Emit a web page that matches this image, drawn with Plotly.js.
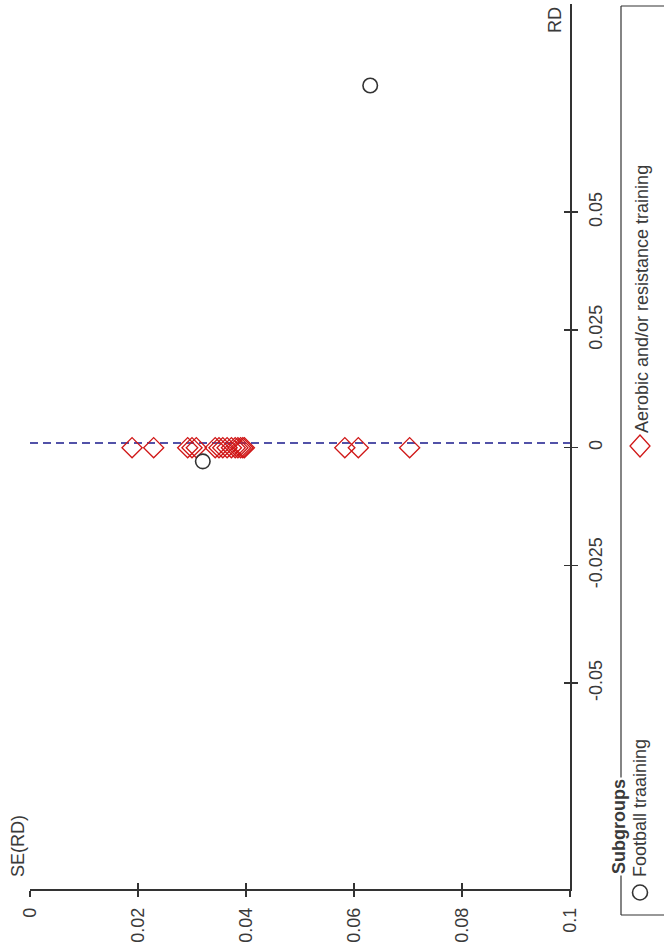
<!DOCTYPE html>
<html>
<head>
<meta charset="utf-8">
<script src="https://cdn.plot.ly/plotly-3.0.1.min.js"></script>
<style>
  html, body { margin: 0; padding: 0; background: #fff; }
  #chart { width: 664px; height: 950px; }
</style>
</head>
<body>
<div id="chart"></div>
<script>
// ---- Data (funnel plot, drawn rotated: SE(RD) horizontal, RD vertical) ----
const groupNames = ["Football traaining", "Aerobic and/or resistance training"];

// Football training (open circles)
const footballSE = [0.0320, 0.0630];
const footballRD = [-0.0029, 0.0769];

// Aerobic and/or resistance training (open diamonds)
const aerobicSE = [0.0189, 0.0229, 0.0292, 0.0300, 0.0308, 0.0343, 0.0350, 0.0357,
                   0.0365, 0.0373, 0.0380, 0.0385, 0.0390, 0.0394, 0.0397,
                   0.0583, 0.0608, 0.0703];
const aerobicRD = [0, 0, 0, 0, 0, 0, 0, 0, 0, 0, 0, 0, 0, 0, 0, 0, 0, 0];

// Pooled estimate line
const pooledSE = [0, 0.1];
const pooledRD = [0.001, 0.001];

// Axes ticks
const seTicks = [0, 0.02, 0.04, 0.06, 0.08, 0.1];
const seTickText = ["0", "0.02", "0.04", "0.06", "0.08", "0.1"];
const rdTicks = [-0.05, -0.025, 0, 0.025, 0.05];
const rdTickText = ["-0.05", "-0.025", "0", "0.025", "0.05"];

// ---- Layout geometry ----
const W = 664, H = 950;
const M = {l: 30, r: 94, t: 4, b: 61};
const PW = W - M.l - M.r, PH = H - M.t - M.b;
const px = x => (x - M.l) / PW;          // pixel -> paper x
const py = y => (H - M.b - y) / PH;      // pixel -> paper y

const FONT = "Liberation Sans, Arial, sans-serif";
const TXT = "#3a3a3a";
const AX = "#333333";

const traces = [
  {
    x: pooledSE, y: pooledRD, mode: "lines", type: "scatter",
    line: {color: "#1a1a8c", width: 1.5, dash: "8px,5px"},
    hoverinfo: "skip", showlegend: false
  },
  {
    x: aerobicSE, y: aerobicRD, mode: "markers", type: "scatter", name: groupNames[1],
    marker: {symbol: "diamond-open", size: 15.5, color: "#d01818", line: {width: 1.3, color: "#d01818"}},
    showlegend: false
  },
  {
    x: footballSE, y: footballRD, mode: "markers", type: "scatter", name: groupNames[0],
    marker: {symbol: "circle-open", size: 14.5, color: "#333333", line: {width: 1.6, color: "#333333"}},
    showlegend: false
  },
  // empty traces to activate overlay axes (for crossing tick marks)
  {x: [null], y: [null], xaxis: "x2", yaxis: "y", type: "scatter", mode: "markers", showlegend: false, hoverinfo: "skip"},
  {x: [null], y: [null], xaxis: "x", yaxis: "y2", type: "scatter", mode: "markers", showlegend: false, hoverinfo: "skip"}
];

const axisFont = {family: FONT, size: 18, color: TXT};
const seRange = [0, 0.1];
const rdRange = [-0.0937, 0.0942];

const shapes = [
  // legend box (left, top, bottom borders; right side is off-canvas)
  {type: "line", xref: "paper", yref: "paper", x0: px(621), x1: px(621), y0: py(6), y1: py(915), line: {color: AX, width: 1.2}},
  {type: "line", xref: "paper", yref: "paper", x0: px(621), x1: px(720), y0: py(6), y1: py(6), line: {color: AX, width: 1.2}},
  {type: "line", xref: "paper", yref: "paper", x0: px(621), x1: px(720), y0: py(915), y1: py(915), line: {color: AX, width: 1.2}},
  // legend circle symbol
  {type: "circle", xref: "paper", yref: "paper", x0: px(632.5), x1: px(647.5), y0: py(900), y1: py(885),
   line: {color: "#333333", width: 1.6}},
  // legend diamond symbol
  {type: "path", xref: "paper", yref: "paper",
   path: `M ${px(640)},${py(435)} L ${px(650)},${py(446)} L ${px(640)},${py(457)} L ${px(630)},${py(446)} Z`,
   line: {color: "#d01818", width: 1.3}}
];

const annotations = [
  {text: "RD", xref: "paper", yref: "paper", x: px(555), y: py(20), textangle: -90,
   showarrow: false, font: axisFont, xanchor: "center", yanchor: "middle"},
  {text: "SE(RD)", xref: "paper", yref: "paper", x: px(18), y: py(846), textangle: -90,
   showarrow: false, font: axisFont, xanchor: "center", yanchor: "middle"},
  {text: "<b>Subgroups</b>", xref: "paper", yref: "paper", x: px(619), y: py(827), textangle: -90,
   showarrow: false, font: {family: FONT, size: 18, color: TXT}, bgcolor: "#ffffff", borderpad: 1,
   xanchor: "center", yanchor: "middle"},
  {text: groupNames[0], xref: "paper", yref: "paper", x: px(640), y: py(879), textangle: -90,
   showarrow: false, font: axisFont, xanchor: "center", yanchor: "bottom"},
  {text: groupNames[1], xref: "paper", yref: "paper", x: px(642), y: py(435), textangle: -90,
   showarrow: false, font: axisFont, xanchor: "center", yanchor: "bottom"}
];

const layout = {
  width: W, height: H,
  margin: M,
  paper_bgcolor: "#ffffff", plot_bgcolor: "#ffffff",
  showlegend: false,
  font: {family: FONT, size: 18, color: TXT},
  xaxis: {
    range: seRange, side: "bottom", anchor: "y",
    showline: true, linecolor: AX, linewidth: 1.5,
    showgrid: false, zeroline: false,
    ticks: "outside", ticklen: 6, tickwidth: 1.5, tickcolor: AX,
    tickmode: "array", tickvals: seTicks, ticktext: seTickText,
    tickangle: -90, tickfont: axisFont, ticklabelstandoff: 4
  },
  xaxis2: {
    range: seRange, overlaying: "x", side: "bottom", anchor: "y",
    showline: false, showgrid: false, zeroline: false,
    ticks: "inside", ticklen: 6, tickwidth: 1.5, tickcolor: AX,
    tickmode: "array", tickvals: seTicks, showticklabels: false
  },
  yaxis: {
    range: rdRange, side: "right", anchor: "x",
    showline: true, linecolor: AX, linewidth: 1.5,
    showgrid: false, zeroline: false,
    ticks: "outside", ticklen: 6, tickwidth: 1.5, tickcolor: AX,
    tickmode: "array", tickvals: rdTicks, ticktext: rdTickText,
    tickangle: -90, tickfont: axisFont, ticklabelstandoff: 3
  },
  yaxis2: {
    range: rdRange, overlaying: "y", side: "right", anchor: "x",
    showline: false, showgrid: false, zeroline: false,
    ticks: "inside", ticklen: 6, tickwidth: 1.5, tickcolor: AX,
    tickmode: "array", tickvals: rdTicks, showticklabels: false
  },
  shapes: shapes,
  annotations: annotations
};

Plotly.newPlot("chart", traces, layout, {staticPlot: true, displayModeBar: false});
</script>
</body>
</html>
